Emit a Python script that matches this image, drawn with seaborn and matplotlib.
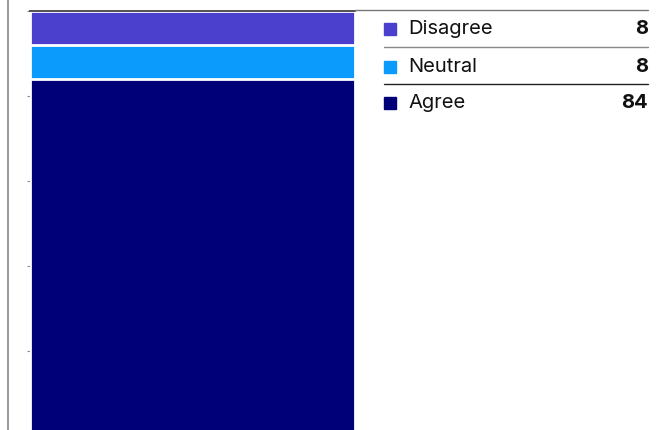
import matplotlib
matplotlib.use("Agg")
import matplotlib.pyplot as plt
from matplotlib.lines import Line2D
from matplotlib.patches import Rectangle
import seaborn as sns
import pandas as pd

categories = ["Agree", "Neutral", "Disagree"]
values = [84, 8, 8]
colors = ["#000078", "#0a9bfd", "#4b3fcd"]

sns.set_style("white")
plt.rcParams["font.family"] = ["Inter", "DejaVu Sans"]

W, H = 665, 430
fig = plt.figure(figsize=(W / 100, H / 100), dpi=100)
# axes: x 30..355 px, value 100 at y=10.5 px, value 0 at y=436 px (below the figure)
ax = fig.add_axes([30 / W, (H - 436) / H, 325 / W, 425.5 / H])

# stacked bar drawn as overlapping cumulative totals (top segment first)
cum = []
total = 0
for v in values:
    total += v
    cum.append(total)
df = pd.DataFrame({"cat": categories, "cum": cum, "x": [""] * len(categories)})
for i in reversed(range(len(categories))):
    sns.barplot(data=df.iloc[[i]], x="x", y="cum", color=colors[i], width=1,
                edgecolor="white", linewidth=2, saturation=1, ax=ax)

ax.set_xlim(-0.5, 0.5)
ax.set_ylim(0, 100)
ax.set_xlabel("")
ax.set_ylabel("")
ax.set_xticks([])
ax.set_yticks(range(0, 101, 20))
ax.set_yticklabels([])
ax.tick_params(axis="y", length=2, width=0.8, color="#888888", left=True)
for s in ["left", "right", "bottom"]:
    ax.spines[s].set_visible(False)
ax.spines["top"].set_color("#444444")
ax.spines["top"].set_linewidth(1.3)

def fx(px):
    return px / W

def fy(py):
    return (H - py) / H

# left rule
fig.add_artist(Line2D([fx(8), fx(8)], [0, 1], color="#888888", lw=1.2))
# top rule continuing across legend
fig.add_artist(Line2D([fx(355), fx(648)], [fy(10), fy(10)], color="#777777", lw=1.0))

# legend rows, top to bottom
rows_y = [29, 67, 103]
sep_y = [47, 84]
sep_c = ["#888888", "#222222"]
order = list(reversed(range(len(categories))))
for r, i in enumerate(order):
    y = rows_y[r]
    fig.add_artist(Rectangle((fx(384), fy(y + 6)), 12 / W, 12 / H,
                             color=colors[i], transform=fig.transFigure))
    fig.text(fx(408), fy(y), categories[i], fontsize=14.5, va="center",
             ha="left", color="#111111")
    fig.text(fx(648), fy(y), str(values[i]), fontsize=14.5, va="center",
             ha="right", fontweight="bold", color="#111111")
for y, c in zip(sep_y, sep_c):
    fig.add_artist(Line2D([fx(384), fx(648)], [fy(y), fy(y)], color=c, lw=1.0))

fig.savefig("out.png", dpi=100)
